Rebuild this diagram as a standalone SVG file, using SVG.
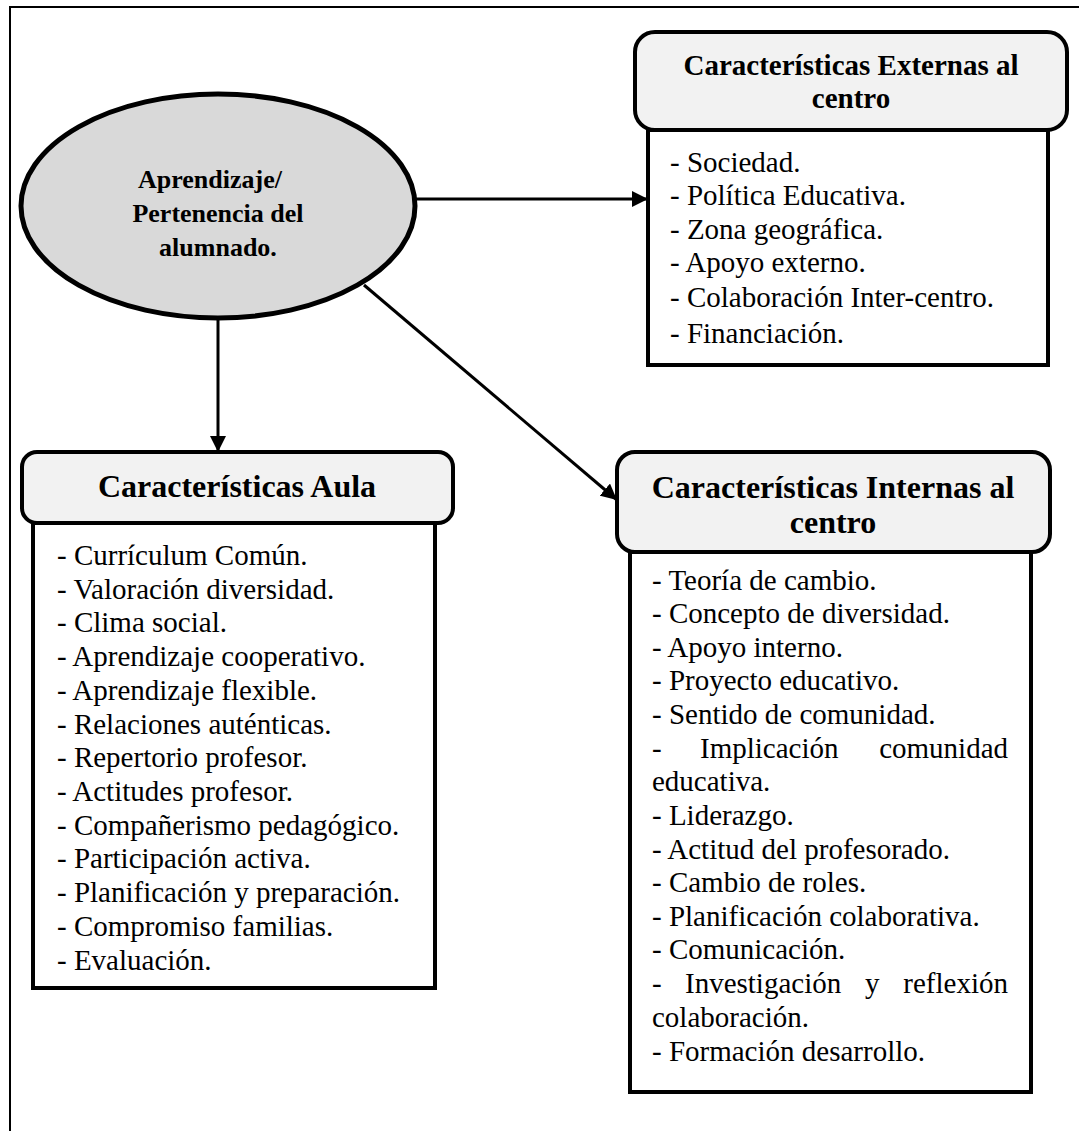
<svg xmlns="http://www.w3.org/2000/svg" width="1079" height="1131" viewBox="0 0 1079 1131">
  <style>
    .frame { fill: none; stroke: #000; stroke-width: 2; }
    .head { fill: #f2f2f2; stroke: #000; stroke-width: 4; }
    .body { fill: #fff; stroke: #000; stroke-width: 4; }
    .hub { fill: #d9d9d9; stroke: #000; stroke-width: 5; }
    .edge { fill: none; stroke: #000; stroke-width: 3; }
    text { font-family: "Liberation Serif", "Times New Roman", serif; fill: #000; }
    .title { font-weight: bold; text-anchor: middle; }
    .item { font-size: 29px; }
  </style>
  <defs>
    <marker id="arrow" markerUnits="userSpaceOnUse" markerWidth="18" markerHeight="16" refX="16" refY="8" orient="auto">
      <path d="M0,0 L16,8 L0,16 Z" fill="#000"/>
    </marker>
  </defs>

  <rect width="1079" height="1131" fill="#fff"/>

  <!-- page frame: top and left rules -->
  <path class="frame" d="M10,1131 V7 H1079"/>

  <!-- connectors -->
  <g id="connectors">
    <line class="edge" x1="415" y1="199" x2="648" y2="199" marker-end="url(#arrow)"/>
    <line class="edge" x1="218" y1="318" x2="218" y2="452" marker-end="url(#arrow)"/>
    <line class="edge" x1="364" y1="285" x2="617" y2="500" marker-end="url(#arrow)"/>
  </g>

  <!-- central node -->
  <g id="node-aprendizaje">
    <ellipse class="hub" cx="218" cy="206" rx="197" ry="112"/>
    <text class="title" font-size="26" x="210" y="188">Aprendizaje/</text>
    <text class="title" font-size="26" x="218" y="222">Pertenencia del</text>
    <text class="title" font-size="26" x="218" y="256">alumnado.</text>
  </g>

  <!-- external factors -->
  <g id="node-externas">
    <rect class="body" x="648" y="130" width="400" height="235"/>
    <rect class="head" x="635" y="32" width="432" height="98" rx="20"/>
    <text class="title" font-size="29" x="851" y="75">Características Externas al</text>
    <text class="title" font-size="29" x="851" y="108">centro</text>
    <text class="item" x="670" y="172">- Sociedad.</text>
    <text class="item" x="670" y="205">- Política Educativa.</text>
    <text class="item" x="670" y="239">- Zona geográfica.</text>
    <text class="item" x="670" y="272">- Apoyo externo.</text>
    <text class="item" x="670" y="307">- Colaboración Inter-centro.</text>
    <text class="item" x="670" y="343">- Financiación.</text>
  </g>

  <!-- classroom factors -->
  <g id="node-aula">
    <rect class="body" x="33" y="523" width="402" height="465"/>
    <rect class="head" x="22" y="452" width="431" height="71" rx="15"/>
    <text class="title" font-size="32" x="237" y="497">Características Aula</text>
    <text class="item" x="57" y="565">- Currículum Común.</text>
    <text class="item" x="57" y="599">- Valoración diversidad.</text>
    <text class="item" x="57" y="632">- Clima social.</text>
    <text class="item" x="57" y="666">- Aprendizaje cooperativo.</text>
    <text class="item" x="57" y="700">- Aprendizaje flexible.</text>
    <text class="item" x="57" y="734">- Relaciones auténticas.</text>
    <text class="item" x="57" y="767">- Repertorio profesor.</text>
    <text class="item" x="57" y="801">- Actitudes profesor.</text>
    <text class="item" x="57" y="835">- Compañerismo pedagógico.</text>
    <text class="item" x="57" y="868">- Participación activa.</text>
    <text class="item" x="57" y="902">- Planificación y preparación.</text>
    <text class="item" x="57" y="936">- Compromiso familias.</text>
    <text class="item" x="57" y="970">- Evaluación.</text>
  </g>

  <!-- school-internal factors -->
  <g id="node-internas">
    <rect class="body" x="630" y="552" width="401" height="540"/>
    <rect class="head" x="617" y="452" width="433" height="100" rx="18"/>
    <text class="title" font-size="32" x="833" y="498">Características Internas al</text>
    <text class="title" font-size="32" x="833" y="533">centro</text>
    <text class="item" x="652" y="590">- Teoría de cambio.</text>
    <text class="item" x="652" y="623">- Concepto de diversidad.</text>
    <text class="item" x="652" y="657">- Apoyo interno.</text>
    <text class="item" x="652" y="690">- Proyecto educativo.</text>
    <text class="item" x="652" y="724">- Sentido de comunidad.</text>
    <!-- justified line: words spread to the right margin -->
    <text class="item" x="652" y="758">-</text>
    <text class="item" x="700" y="758">Implicación</text>
    <text class="item" x="1008" y="758" text-anchor="end">comunidad</text>
    <text class="item" x="652" y="791">educativa.</text>
    <text class="item" x="652" y="825">- Liderazgo.</text>
    <text class="item" x="652" y="859">- Actitud del profesorado.</text>
    <text class="item" x="652" y="892">- Cambio de roles.</text>
    <text class="item" x="652" y="926">- Planificación colaborativa.</text>
    <text class="item" x="652" y="959">- Comunicación.</text>
    <text class="item" x="652" y="993">-</text>
    <text class="item" x="685" y="993">Investigación</text>
    <text class="item" x="865" y="993">y</text>
    <text class="item" x="1008" y="993" text-anchor="end">reflexión</text>
    <text class="item" x="652" y="1027">colaboración.</text>
    <text class="item" x="652" y="1061">- Formación desarrollo.</text>
  </g>
</svg>
